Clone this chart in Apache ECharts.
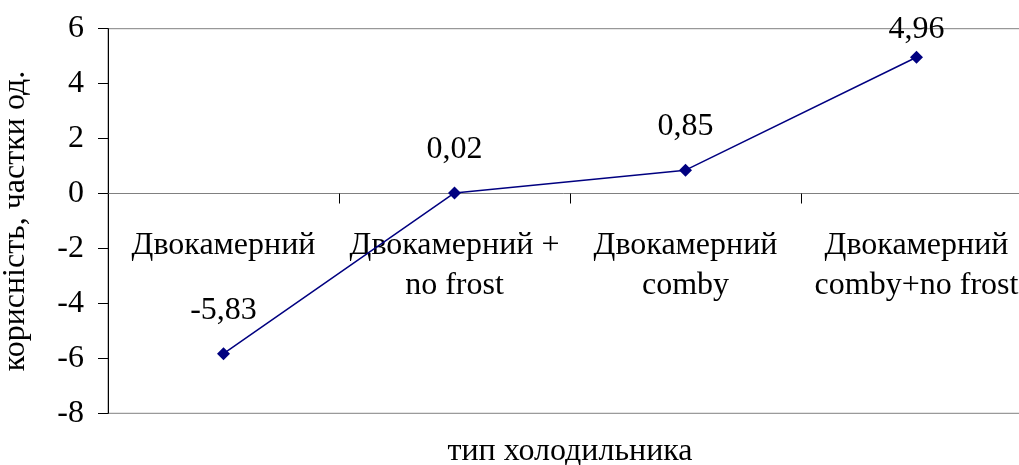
<!DOCTYPE html>
<html>
<head>
<meta charset="utf-8">
<script src="https://cdn.jsdelivr.net/npm/echarts@6/dist/echarts.min.js"></script>
<style>
  html, body { margin: 0; padding: 0; background: #fff; overflow: hidden; }
  #chart { width: 1019px; height: 465px; }
</style>
</head>
<body>
<div id="chart"></div>
<script>
// Fridge types and their usefulness scores
const categories = [
  'Двокамерний',
  'Двокамерний +\nno frost',
  'Двокамерний\ncomby',
  'Двокамерний\ncomby+no frost'
];
const usefulness = [-5.83, 0.02, 0.85, 4.96];
const yMin = -8, yMax = 6, yStep = 2;

const FONT = '"Liberation Serif", "Times New Roman", serif';
const FS = 32;

// Plot box
const GRID = { left: 108, right: -13, top: 28.7, bottom: 51.7 };
const plotHeight = 465 - GRID.top - GRID.bottom;
// The category axis crosses the value axis at zero
const zeroLift = plotHeight * (0 - yMin) / (yMax - yMin);

// Labels sit above their markers; the one close to the top edge is tucked in.
const points = usefulness.map(v => ({
  value: v,
  label: { distance: v > yMax - 1.5 ? 5 : 21 }
}));

const chart = echarts.init(document.getElementById('chart'));
chart.setOption({
  backgroundColor: '#fff',
  animation: false,
  grid: Object.assign({
    show: true, borderColor: '#808080', borderWidth: 1,
    containLabel: false,
    outerBoundsMode: 'none'
  }, GRID),
  xAxis: {
    type: 'category',
    data: categories,
    boundaryGap: true,
    position: 'bottom',
    offset: -zeroLift,
    name: 'тип холодильника',
    nameLocation: 'middle',
    nameGap: 242,
    nameTextStyle: { fontFamily: FONT, fontSize: FS, color: '#000' },
    axisLine: { onZero: false, lineStyle: { color: '#808080', width: 1 } },
    axisTick: { show: true, inside: false, length: 10, alignWithLabel: false,
                lineStyle: { color: '#000' } },
    axisLabel: {
      fontFamily: FONT, fontSize: FS, color: '#000',
      lineHeight: 40, margin: 32, interval: 0
    },
    splitLine: { show: false }
  },
  yAxis: {
    type: 'value',
    min: yMin, max: yMax, interval: yStep,
    name: 'корисність, частки од.',
    nameLocation: 'middle',
    nameGap: 76,
    nameRotate: 90,
    nameTextStyle: { fontFamily: FONT, fontSize: FS, color: '#000' },
    axisLine: { show: true, lineStyle: { color: '#000', width: 1 } },
    axisTick: { show: true, inside: false, length: 10, lineStyle: { color: '#000' } },
    axisLabel: { fontFamily: FONT, fontSize: FS, color: '#000', margin: 24 },
    splitLine: { show: false }
  },
  series: [{
    type: 'line',
    data: points,
    symbol: 'diamond',
    symbolSize: 13,
    lineStyle: { color: '#000080', width: 1.5 },
    itemStyle: { color: '#000080' },
    label: {
      show: true,
      position: 'top',
      fontFamily: FONT, fontSize: FS, color: '#000',
      formatter: p => String(p.value).replace('.', ',')
    }
  }]
});
</script>
</body>
</html>
